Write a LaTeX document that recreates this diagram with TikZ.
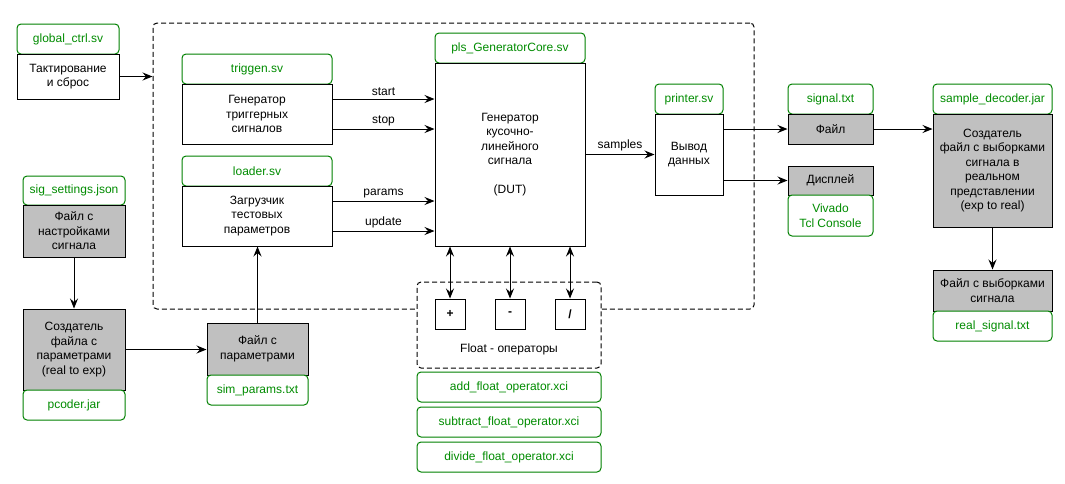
\documentclass[tikz,border=0pt]{standalone}
\usepackage{fontspec}
\setmainfont{Liberation Sans}
\usetikzlibrary{arrows.meta}
\definecolor{hdrgreen}{RGB}{0,128,0}
\definecolor{hdrtext}{RGB}{0,140,0}
\definecolor{boxgray}{RGB}{192,192,192}
\begin{document}
\begin{tikzpicture}[x=1pt,y=-1pt,
  every node/.style={inner sep=0pt, font=\fontsize{12}{14.5}\selectfont},
  hdr/.style={draw=hdrgreen, text=hdrtext, fill=white, rounded corners=4pt, line width=1pt, align=center},
  body/.style={draw=black, fill=white, line width=1pt, align=center},
  grey/.style={draw=black, fill=boxgray, line width=1pt, align=center},
  dashbox/.style={draw=black, dash pattern=on 5pt off 3pt, line width=1pt, rounded corners=4pt},
  arr/.style={line width=1pt, -{Stealth[length=10pt,width=8pt,inset=3.5pt]}},
  biarr/.style={line width=1pt, {Stealth[length=10pt,width=8pt,inset=3.5pt]}-{Stealth[length=10pt,width=8pt,inset=3.5pt]}},
  lbl/.style={above, inner sep=3pt}
]
\useasboundingbox (0,0) rectangle (1065,483);

% big dashed system box
\node[dashbox, minimum width=601, minimum height=286] (sys) at (453.5,166) {};

% global ctrl
\node[hdr, minimum width=102, minimum height=30] (gch) at (68,39) {global\_ctrl.sv};
\node[body, minimum width=102, minimum height=45] (gcb) at (68,76.5) {Тактирование\\и сброс};

% triggen
\node[hdr, minimum width=150, minimum height=30] (trh) at (257,69) {triggen.sv};
\node[body, minimum width=150, minimum height=60] (trb) at (257,114) {Генератор\\триггерных\\сигналов};

% loader
\node[hdr, minimum width=150, minimum height=30] (ldh) at (257,171) {loader.sv};
\node[body, minimum width=150, minimum height=60] (ldb) at (257,216) {Загрузчик\\тестовых\\параметров};

% core
\node[hdr, minimum width=150, minimum height=30] (coh) at (510,48) {pls\_GeneratorCore.sv};
\node[body, minimum width=150, minimum height=183] (cob) at (510,154.5) {Генератор\\кусочно-\\линейного\\сигнала\\[14.5pt](DUT)};

% printer
\node[hdr, minimum width=68, minimum height=30] (prh) at (689,99) {printer.sv};
\node[body, minimum width=68, minimum height=81] (prb) at (689,154.5) {Вывод\\данных};

% signal file
\node[hdr, minimum width=85, minimum height=30] (sgh) at (830.5,99) {signal.txt};
\node[grey, minimum width=85, minimum height=30] (sgb) at (830.5,129) {Файл};

% display
\node[grey, minimum width=85, minimum height=29] (dsp) at (830.5,180.5) {Дисплей};
\node[hdr, minimum width=85, minimum height=41] (viv) at (830.5,215.5) {Vivado\\Tcl Console};

% sample decoder
\node[hdr, minimum width=119, minimum height=30] (sdh) at (992.5,99) {sample\_decoder.jar};
\node[grey, minimum width=119, minimum height=113] (sdb) at (992.5,170.5) {Создатель\\файл с выборками\\сигнала в\\реальном\\представлении\\(exp to real)};

% real signal
\node[grey, minimum width=119, minimum height=41] (rsb) at (992.5,290.5) {Файл с выборками\\сигнала};
\node[hdr, minimum width=119, minimum height=30] (rsh) at (992.5,326) {real\_signal.txt};

% sig settings
\node[hdr, minimum width=102, minimum height=29] (ssh) at (74,190.5) {sig\_settings.json};
\node[grey, minimum width=102, minimum height=52] (ssb) at (74,231) {Файл с\\настройками\\сигнала};

% pcoder
\node[grey, minimum width=102, minimum height=81] (pcb) at (74,349.5) {Создатель\\файла с\\параметрами\\(real to exp)};
\node[hdr, minimum width=102, minimum height=30] (pch) at (74,405) {pcoder.jar};

% param file
\node[grey, minimum width=101, minimum height=52] (fpb) at (257.5,349) {Файл с\\параметрами};
\node[hdr, minimum width=101, minimum height=30] (fph) at (257.5,390) {sim\_params.txt};

% float operators
\node[dashbox, fill=white, minimum width=184, minimum height=86] (flt) at (509,325) {};
\node[body, minimum width=30, minimum height=30, font=\fontsize{12}{14.5}\selectfont\bfseries] (opadd) at (450,314) {+};
\node[body, minimum width=30, minimum height=30, font=\fontsize{12}{14.5}\selectfont\bfseries] (opsub) at (510,314) {-};
\node[body, minimum width=30, minimum height=30, font=\fontsize{12}{14.5}\selectfont\bfseries] (opdiv) at (570,314) {/};
\node (fltlbl) at (509,349) {Float - операторы};

\node[hdr, minimum width=184, minimum height=30] (addx) at (509,387) {add\_float\_operator.xci};
\node[hdr, minimum width=184, minimum height=30] (subx) at (509,422) {subtract\_float\_operator.xci};
\node[hdr, minimum width=184, minimum height=30] (divx) at (509,457) {divide\_float\_operator.xci};

% connectors
\draw[arr] (gcb.east) -- (gcb.east -| sys.west);
\draw[arr] ([yshift=15pt]trb.east) -- node[lbl]{start} ([yshift=15pt]trb.east -| cob.west);
\draw[arr] ([yshift=-15pt]trb.east) -- node[lbl]{stop} ([yshift=-15pt]trb.east -| cob.west);
\draw[arr] ([yshift=15pt]ldb.east) -- node[lbl]{params} ([yshift=15pt]ldb.east -| cob.west);
\draw[arr] ([yshift=-15pt]ldb.east) -- node[lbl]{update} ([yshift=-15pt]ldb.east -| cob.west);
\draw[arr] (cob.east) -- node[lbl]{samples} (cob.east -| prb.west);
\draw[arr] (prb.east |- sgb.west) -- (sgb.west);
\draw[arr] (prb.east |- dsp.west) -- (dsp.west);
\draw[arr] (sgb.east) -- (sgb.east -| sdb.west);
\draw[arr] (sdb.south) -- (rsb.north);
\draw[arr] (ssb.south) -- (pcb.north);
\draw[arr] (pcb.east) -- (pcb.east -| fpb.west);
\draw[arr] (fpb.north) -- (fpb.north |- ldb.south);
\draw[biarr] (opadd.north) -- (opadd.north |- cob.south);
\draw[biarr] (opsub.north) -- (opsub.north |- cob.south);
\draw[biarr] (opdiv.north) -- (opdiv.north |- cob.south);
\end{tikzpicture}
\end{document}
